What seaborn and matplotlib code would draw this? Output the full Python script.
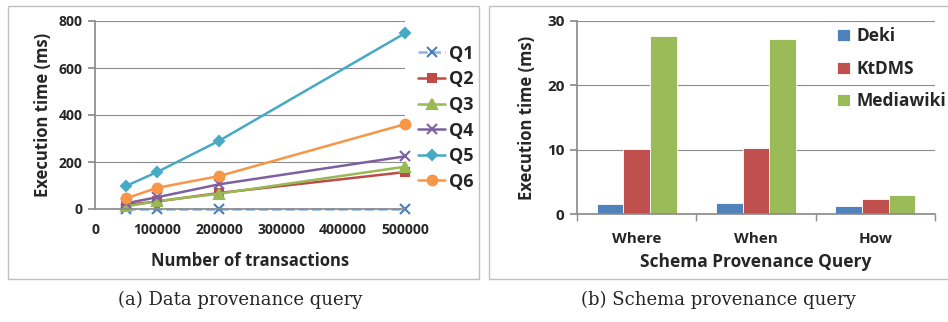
import matplotlib
matplotlib.use("Agg")
import matplotlib.pyplot as plt
import pandas as pd
import seaborn as sns
from matplotlib.patches import Rectangle

# --- data (a): data provenance query ---
transactions = [50000, 100000, 200000, 500000]
q1 = [0, 0, 0, 0]
q2 = [17, 32, 68, 157]
q3 = [11, 33, 65, 180]
q4 = [24, 50, 105, 224]
q5 = [98, 157, 290, 748]
q6 = [45, 90, 140, 361]
query_names = ["Q1", "Q2", "Q3", "Q4", "Q5", "Q6"]

# --- data (b): schema provenance query ---
schema_queries = ["Where", "When", "How"]
deki = [1.6, 1.7, 1.2]
ktdms = [10.1, 10.2, 2.3]
mediawiki = [27.6, 27.2, 3.0]
systems = ["Deki", "KtDMS", "Mediawiki"]

sns.set_theme(style="white")
plt.rcParams['font.family'] = ['Open Sans', 'DejaVu Sans']
plt.rcParams['font.weight'] = 'bold'

fig = plt.figure(figsize=(9.48, 3.22), dpi=100)

# panel frames
for x0, w in [(8, 471), (489, 470)]:
    fig.patches.append(Rectangle((x0 / 948, 1 - 279 / 322), w / 948, 273 / 322,
                                 transform=fig.transFigure, fill=False,
                                 edgecolor="#c0c0c0", linewidth=1.0))

# ---------- left panel ----------
ax1 = fig.add_axes([95 / 948, 1 - 209 / 322, 310 / 948, 188 / 322])
styles = {
    "Q1": dict(color="#4a7ebb", marker="x", ls="--", lc="#8eb4e3", ms=7),
    "Q2": dict(color="#be4b48", marker="s", ls="-", lc="#be4b48", ms=6),
    "Q3": dict(color="#98b954", marker="^", ls="-", lc="#98b954", ms=7),
    "Q4": dict(color="#7d60a0", marker="x", ls="-", lc="#7d60a0", ms=7),
    "Q5": dict(color="#46aac5", marker="D", ls="-", lc="#46aac5", ms=5),
    "Q6": dict(color="#f79646", marker="o", ls="-", lc="#f79646", ms=7),
}
series = [q1, q2, q3, q4, q5, q6]
df = pd.DataFrame({
    "tx": transactions * len(series),
    "time": [v for s in series for v in s],
    "query": [n for n in query_names for _ in transactions],
})
for name in query_names:
    st = styles[name]
    sub = df[df["query"] == name]
    sns.lineplot(data=sub, x="tx", y="time", ax=ax1, color=st["lc"],
                 linestyle=st["ls"], linewidth=1.8, marker=st["marker"],
                 markersize=st["ms"], markerfacecolor=st["color"],
                 markeredgecolor=st["color"], markeredgewidth=1.5,
                 label=name, clip_on=False)

ax1.set_xlim(0, 500000)
ax1.set_ylim(0, 800)
ax1.set_xticks([0, 100000, 200000, 300000, 400000, 500000])
ax1.set_yticks([0, 200, 400, 600, 800])
ax1.grid(axis="y", color="#8c8c8c", linewidth=0.8)
for sp in ["top", "right"]:
    ax1.spines[sp].set_visible(False)
for sp in ["left", "bottom"]:
    ax1.spines[sp].set_color("#8c8c8c")
ax1.tick_params(axis="y", length=5, color="#8c8c8c", labelsize=10, pad=4, left=True)
ax1.tick_params(axis="x", length=0, labelsize=10, pad=10)
ax1.set_xlabel("Number of transactions", fontsize=12, fontweight="bold", labelpad=11)
ax1.set_ylabel("Execution time (ms)", fontsize=12, fontweight="bold", labelpad=5)
ax1.legend(loc="upper left", bbox_to_anchor=(0.99, 0.96), frameon=False,
           handlelength=1.5, handletextpad=0.2, labelspacing=0.42,
           prop=dict(weight="bold", size=13))

# ---------- right panel ----------
ax2 = fig.add_axes([577 / 948, 1 - 214 / 322, 358 / 948, 193 / 322])
bdf = pd.DataFrame({
    "query": schema_queries * len(systems),
    "time": deki + ktdms + mediawiki,
    "system": [s for s in systems for _ in schema_queries],
})
sns.barplot(data=bdf, x="query", y="time", hue="system", ax=ax2,
            palette=["#4f81bd", "#c0504d", "#9bbb59"], width=0.67,
            edgecolor="white", linewidth=0.6, saturation=1)
ax2.set_ylim(0, 30)
ax2.set_xlim(-0.5, 2.5)
ax2.set_yticks([0, 10, 20, 30])
ax2.set_axisbelow(True)
ax2.grid(axis="y", color="#8c8c8c", linewidth=0.8)
for sp in ["top", "right"]:
    ax2.spines[sp].set_visible(False)
for sp in ["left", "bottom"]:
    ax2.spines[sp].set_color("#8c8c8c")
ax2.set_xticks([-0.5, 0.5, 1.5, 2.5], minor=True)
ax2.tick_params(axis="x", which="minor", length=5, color="#8c8c8c", bottom=True)
ax2.tick_params(axis="x", which="major", length=0, labelsize=11, pad=13)
ax2.tick_params(axis="y", length=5, color="#8c8c8c", labelsize=11, pad=4, left=True)
ax2.set_xlabel("Schema Provenance Query", fontsize=12.5, fontweight="bold", labelpad=5)
ax2.set_ylabel("Execution time (ms)", fontsize=12, fontweight="bold", labelpad=8)
ax2.legend(loc="upper right", bbox_to_anchor=(1.075, 1.05), frameon=False,
           handlelength=0.7, handleheight=0.7, handletextpad=0.4, labelspacing=0.85,
           prop=dict(weight="bold", size=12.5))

# captions
fig.text(240 / 948, 1 - 300 / 322, "(a) Data provenance query", ha="center", va="center",
         fontsize=13, fontweight="normal", family=["DejaVu Serif"])
fig.text(718 / 948, 1 - 300 / 322, "(b) Schema provenance query", ha="center", va="center",
         fontsize=13, fontweight="normal", family=["DejaVu Serif"])

fig.savefig("out.png", dpi=100)
